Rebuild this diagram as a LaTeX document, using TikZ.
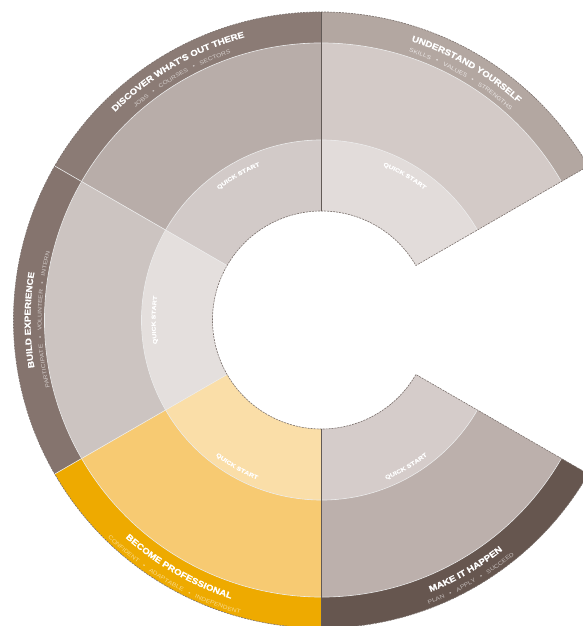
\documentclass[tikz,border=0pt]{standalone}
\usepackage{fontspec}
\setmainfont{Liberation Sans}
\newfontfamily\ttlfont[FakeStretch=1.15,FakeBold=0.8]{Liberation Sans}
\newfontfamily\subfont[FakeStretch=1.2,WordSpace=3]{Liberation Sans}
\newfontfamily\qsfont[FakeStretch=1.25,FakeBold=0.6]{Liberation Sans}
\usetikzlibrary{decorations.text}
\definecolor{UYo}{HTML}{B3A7A1}\definecolor{UYm}{HTML}{D3CAC7}\definecolor{UYi}{HTML}{E2DCDA}
\definecolor{DWo}{HTML}{8B7B75}\definecolor{DWm}{HTML}{B8ADA9}\definecolor{DWi}{HTML}{D2CAC8}
\definecolor{BEo}{HTML}{85746E}\definecolor{BEm}{HTML}{CCC4C1}\definecolor{BEi}{HTML}{E4DFDD}
\definecolor{BPo}{HTML}{EEAA00}\definecolor{BPm}{HTML}{F7CA72}\definecolor{BPi}{HTML}{FADEA8}
\definecolor{MHo}{HTML}{66564F}\definecolor{MHm}{HTML}{BCB0AC}\definecolor{MHi}{HTML}{D5CCCA}
\definecolor{edge}{HTML}{7A706C}
\newcommand\ringseg[5]{\fill[#5] (#1:#3) arc[start angle=#1,end angle=#2,radius=#3] -- (#2:#4) arc[start angle=#2,end angle=#1,radius=#4] -- cycle;}
\newcommand\arctext[5]{\path[decorate,decoration={text along path,text align=center,text={|#4|#5}}] (#1:#3) arc[start angle=#1,end angle=#2,radius=#3];}
\newcommand\TT{\ttlfont\bfseries\fontsize{8.5}{10}\selectfont\color{white}}
\newcommand\QS{\qsfont\bfseries\fontsize{5.6}{6.5}\selectfont\color{white}}
\newcommand\SB[1]{\subfont\fontsize{5.6}{6.5}\selectfont\color{#1}}
\begin{document}
\begin{tikzpicture}[x=1pt,y=1pt,
  sepline/.style={draw=white!85!gray,line width=0.6pt},
  outline/.style={draw=edge,line width=0.6pt,dash pattern=on 2pt off 1pt},
  midline/.style={draw=edge!80!black,line width=0.7pt}]
\useasboundingbox (0,0) rectangle (583,-626);
\clip (0,0) rectangle (583,-626);
\begin{scope}[shift={(321.5,-320)}]
% fills
\ringseg{30}{90}{109}{180}{UYi}\ringseg{30}{90}{180}{277}{UYm}\ringseg{30}{90}{277}{308}{UYo}
\ringseg{90}{150}{109}{180}{DWi}\ringseg{90}{150}{180}{277}{DWm}\ringseg{90}{150}{277}{308}{DWo}
\ringseg{150}{210}{109}{180}{BEi}\ringseg{150}{210}{180}{277}{BEm}\ringseg{150}{210}{277}{308}{BEo}
\ringseg{210}{270}{109}{180}{BPi}\ringseg{210}{270}{180}{277}{BPm}\ringseg{210}{270}{277}{308}{BPo}
\ringseg{270}{330}{109}{180}{MHi}\ringseg{270}{330}{180}{277}{MHm}\ringseg{270}{330}{277}{308}{MHo}
% internal separators
\draw[sepline] (30:180) arc[start angle=30,end angle=330,radius=180];
\draw[sepline] (30:277) arc[start angle=30,end angle=330,radius=277];
\draw[sepline] (150:109) -- (150:308);
\draw[sepline] (210:109) -- (210:308);
% outline
\draw[outline] (30:308) arc[start angle=30,end angle=330,radius=308] -- (330:109)
  arc[start angle=330,end angle=30,radius=109] -- cycle;
\draw[midline] (90:109) -- (90:308);
\draw[midline] (270:109) -- (270:308);
% titles
\arctext{90}{30}{293}{\TT}{UNDERSTAND YOURSELF}
\arctext{90}{30}{282}{\SB{white!72!UYo}}{SKILLS • VALUES • STRENGTHS}
\arctext{150}{90}{293}{\TT}{DISCOVER WHAT'S OUT THERE}
\arctext{150}{90}{282}{\SB{white!62!DWo}}{JOBS • COURSES • SECTORS}
\arctext{210}{150}{291}{\TT}{BUILD EXPERIENCE}
\arctext{210}{150}{280}{\SB{white!62!BEo}}{PARTICIPATE • VOLUNTEER • INTERN}
\arctext{210}{270}{293}{\TT}{BECOME PROFESSIONAL}
\arctext{210}{270}{305}{\SB{white!55!BPo}}{CONFIDENT • ADAPTABLE • INDEPENDENT}
\arctext{270}{330}{293}{\TT}{MAKE IT HAPPEN}
\arctext{270}{330}{304}{\SB{white!60!MHo}}{PLAN • APPLY • SUCCEED}
% quick start
\arctext{90}{30}{166}{\QS}{QUICK START}
\arctext{150}{90}{166}{\QS}{QUICK START}
\arctext{210}{150}{166}{\QS}{QUICK START}
\arctext{210}{270}{172}{\QS}{QUICK START}
\arctext{270}{330}{172}{\QS}{QUICK START}
\end{scope}
\end{tikzpicture}
\end{document}
